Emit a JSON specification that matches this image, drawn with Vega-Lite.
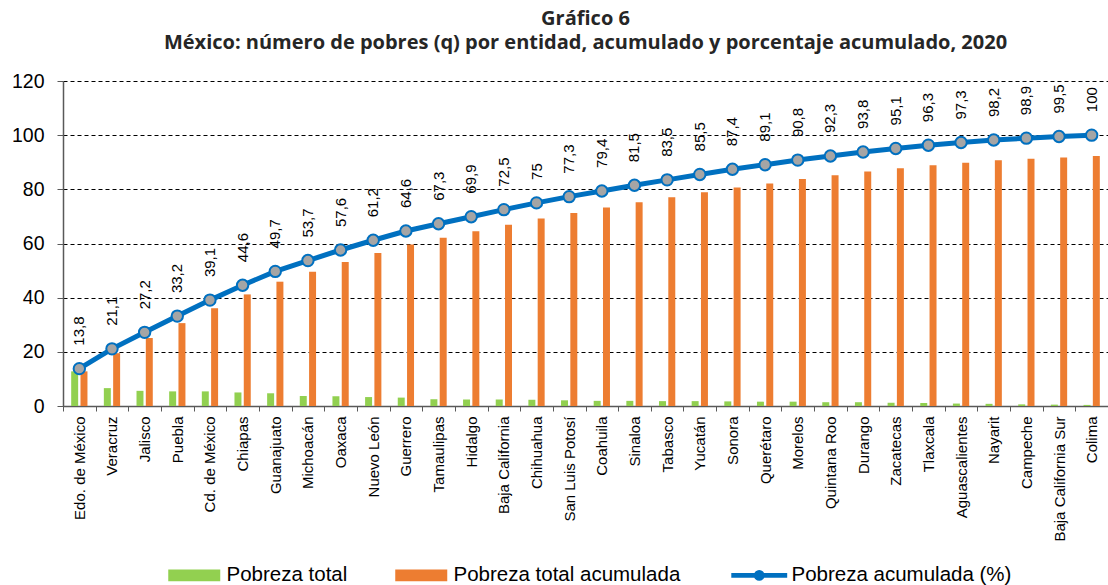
{
  "$schema": "https://vega.github.io/schema/vega-lite/v6.json",
  "width": 1045,
  "height": 325,
  "autosize": {"type": "none"},
  "padding": {"left": 63, "top": 81, "right": 0, "bottom": 179},
  "background": "white",
  "config": {
    "view": {"stroke": null},
    "font": "Liberation Sans",
    "locale": {"number": {"decimal": ",", "thousands": ".", "grouping": [3], "currency": ["$", ""]}}
  },
  "title": {
    "text": ["Gráfico 6", "México: número de pobres (q) por entidad, acumulado y porcentaje acumulado, 2020"],
    "font": "Open Sans",
    "fontWeight": "bold",
    "fontSize": 20,
    "lineHeight": 24.5,
    "color": "#262626",
    "anchor": "middle",
    "offset": 18
  },
  "data": {
    "values": [
      {"entidad": "Edo. de México", "total": 12.8, "acumulada": 12.8, "pct": 13.8},
      {"entidad": "Veracruz", "total": 6.6, "acumulada": 19.5, "pct": 21.1},
      {"entidad": "Jalisco", "total": 5.6, "acumulada": 25.1, "pct": 27.2},
      {"entidad": "Puebla", "total": 5.4, "acumulada": 30.6, "pct": 33.2},
      {"entidad": "Cd. de México", "total": 5.4, "acumulada": 36.1, "pct": 39.1},
      {"entidad": "Chiapas", "total": 5.0, "acumulada": 41.2, "pct": 44.6},
      {"entidad": "Guanajuato", "total": 4.7, "acumulada": 45.9, "pct": 49.7},
      {"entidad": "Michoacán", "total": 3.7, "acumulada": 49.6, "pct": 53.7},
      {"entidad": "Oaxaca", "total": 3.6, "acumulada": 53.2, "pct": 57.6},
      {"entidad": "Nuevo León", "total": 3.3, "acumulada": 56.5, "pct": 61.2},
      {"entidad": "Guerrero", "total": 3.1, "acumulada": 59.6, "pct": 64.6},
      {"entidad": "Tamaulipas", "total": 2.5, "acumulada": 62.1, "pct": 67.3},
      {"entidad": "Hidalgo", "total": 2.4, "acumulada": 64.5, "pct": 69.9},
      {"entidad": "Baja California", "total": 2.4, "acumulada": 66.9, "pct": 72.5},
      {"entidad": "Chihuahua", "total": 2.3, "acumulada": 69.2, "pct": 75},
      {"entidad": "San Luis Potosí", "total": 2.1, "acumulada": 71.3, "pct": 77.3},
      {"entidad": "Coahuila", "total": 1.9, "acumulada": 73.3, "pct": 79.4},
      {"entidad": "Sinaloa", "total": 1.9, "acumulada": 75.2, "pct": 81.5},
      {"entidad": "Tabasco", "total": 1.8, "acumulada": 77.1, "pct": 83.5},
      {"entidad": "Yucatán", "total": 1.8, "acumulada": 78.9, "pct": 85.5},
      {"entidad": "Sonora", "total": 1.7, "acumulada": 80.7, "pct": 87.4},
      {"entidad": "Querétaro", "total": 1.6, "acumulada": 82.2, "pct": 89.1},
      {"entidad": "Morelos", "total": 1.6, "acumulada": 83.8, "pct": 90.8},
      {"entidad": "Quintana Roo", "total": 1.4, "acumulada": 85.2, "pct": 92.3},
      {"entidad": "Durango", "total": 1.4, "acumulada": 86.6, "pct": 93.8},
      {"entidad": "Zacatecas", "total": 1.2, "acumulada": 87.8, "pct": 95.1},
      {"entidad": "Tlaxcala", "total": 1.1, "acumulada": 88.9, "pct": 96.3},
      {"entidad": "Aguascalientes", "total": 0.9, "acumulada": 89.8, "pct": 97.3},
      {"entidad": "Nayarit", "total": 0.8, "acumulada": 90.7, "pct": 98.2},
      {"entidad": "Campeche", "total": 0.6, "acumulada": 91.3, "pct": 98.9},
      {"entidad": "Baja California Sur", "total": 0.5, "acumulada": 91.8, "pct": 99.5},
      {"entidad": "Colima", "total": 0.4, "acumulada": 92.3, "pct": 100}
    ]
  },
  "encoding": {
    "x": {
      "field": "entidad",
      "type": "nominal",
      "sort": null,
      "scale": {"paddingInner": 0, "paddingOuter": 0},
      "axis": {
        "title": null,
        "labelAngle": 270,
        "labelFontSize": 15,
        "labelColor": "black",
        "labelFont": "Liberation Sans",
        "labelPadding": 5,
        "tickBand": "extent",
        "tickSize": 5,
        "tickColor": "#595959",
        "domainColor": "#595959",
        "domainWidth": 1.5,
        "labelLimit": 0
      }
    }
  },
  "layer": [
    {
      "mark": {"type": "bar"},
      "encoding": {
        "y": {
          "field": "total", "type": "quantitative",
          "scale": {"domain": [0, 120]},
          "axis": {"title": null, "values": [0, 20, 40, 60, 80, 100, 120], "grid": true, "gridDash": [4, 3], "gridColor": "black", "gridWidth": 1, "domainColor": "#595959", "domainWidth": 1.5, "tickColor": "#595959", "tickSize": 6, "labelFontSize": 19.5, "labelColor": "black", "labelPadding": 13, "labelFont": "Liberation Sans"}
        },
        "xOffset": {"datum": "Pobreza total", "scale": {"domain": ["Pobreza total", "Pobreza total acumulada"], "paddingInner": 0.25, "paddingOuter": 0.88}},
        "color": {
          "datum": "Pobreza total",
          "scale": {"domain": ["Pobreza total", "Pobreza total acumulada", "Pobreza acumulada (%)"], "range": ["#92d050", "#ed7d31", "#0070c0"]},
          "legend": {
            "orient": "none",
            "legendX": 121,
            "legendY": 484,
            "direction": "horizontal",
            "title": null,
            "labelFontSize": 20.5,
            "labelColor": "black",
            "labelFont": "Liberation Sans",
            "labelLimit": 0,
            "symbolSize": 676,
            "labelOffset": 22,
            "columnPadding": 47,
            "symbolType": "M-2,-0.46L2,-0.46L2,0.46L-2,0.46Z",
            "encode": {
              "symbols": {
                "update": {
                  "shape": {"signal": "datum.value === 'Pobreza acumulada (%)' ? 'M-2.15,-0.12L-0.38,-0.12M-2.15,-0.04L-0.38,-0.04M-2.15,0.04L-0.38,0.04M-2.15,0.12L-0.38,0.12M0.38,-0.12L2.15,-0.12M0.38,-0.04L2.15,-0.04M0.38,0.04L2.15,0.04M0.38,0.12L2.15,0.12M0.35,0A0.35,0.35,0,1,1,-0.35,0A0.35,0.35,0,1,1,0.35,0Z' : 'M-2,-0.46L2,-0.46L2,0.46L-2,0.46Z'"},
                  "fill": {"signal": "datum.value === 'Pobreza acumulada (%)' ? '#a5a5a5' : (datum.value === 'Pobreza total' ? '#92d050' : '#ed7d31')"},
                  "stroke": {"signal": "datum.value === 'Pobreza acumulada (%)' ? '#0070c0' : 'transparent'"},
                  "strokeWidth": {"signal": "datum.value === 'Pobreza acumulada (%)' ? 1.6 : 0"},
                  "opacity": {"value": 1},
                  "fillOpacity": {"value": 1},
                  "strokeOpacity": {"value": 1}
                }
              }
            }
          }
        }
      }
    },
    {
      "mark": {"type": "bar"},
      "encoding": {
        "y": {
          "field": "acumulada", "type": "quantitative",
          "scale": {"domain": [0, 120]},
          "axis": {"title": null, "values": [0, 20, 40, 60, 80, 100, 120], "grid": true, "gridDash": [4, 3], "gridColor": "black", "gridWidth": 1, "domainColor": "#595959", "domainWidth": 1.5, "tickColor": "#595959", "tickSize": 6, "labelFontSize": 19.5, "labelColor": "black", "labelPadding": 13, "labelFont": "Liberation Sans"}
        },
        "xOffset": {"datum": "Pobreza total acumulada"},
        "color": {"datum": "Pobreza total acumulada"}
      }
    },
    {
      "mark": {"type": "line", "strokeWidth": 5},
      "encoding": {
        "y": {
          "field": "pct", "type": "quantitative",
          "scale": {"domain": [0, 120]},
          "axis": {"title": null, "values": [0, 20, 40, 60, 80, 100, 120], "grid": true, "gridDash": [4, 3], "gridColor": "black", "gridWidth": 1, "domainColor": "#595959", "domainWidth": 1.5, "tickColor": "#595959", "tickSize": 6, "labelFontSize": 19.5, "labelColor": "black", "labelPadding": 13, "labelFont": "Liberation Sans"}
        },
        "color": {"datum": "Pobreza acumulada (%)"}
      }
    },
    {
      "mark": {"type": "point", "shape": "circle", "filled": true, "fill": "#a5a5a5", "stroke": "#0070c0", "strokeWidth": 2, "size": 130, "opacity": 1},
      "encoding": {
        "y": {"field": "pct", "type": "quantitative", "scale": {"domain": [0, 120]}}
      }
    },
    {
      "mark": {"type": "text", "angle": 270, "align": "left", "baseline": "middle", "dx": 23, "fontSize": 15, "font": "Liberation Sans", "color": "black"},
      "encoding": {
        "y": {"field": "pct", "type": "quantitative", "scale": {"domain": [0, 120]}},
        "text": {"field": "pct", "type": "quantitative", "format": "~g"}
      }
    }
  ]
}
